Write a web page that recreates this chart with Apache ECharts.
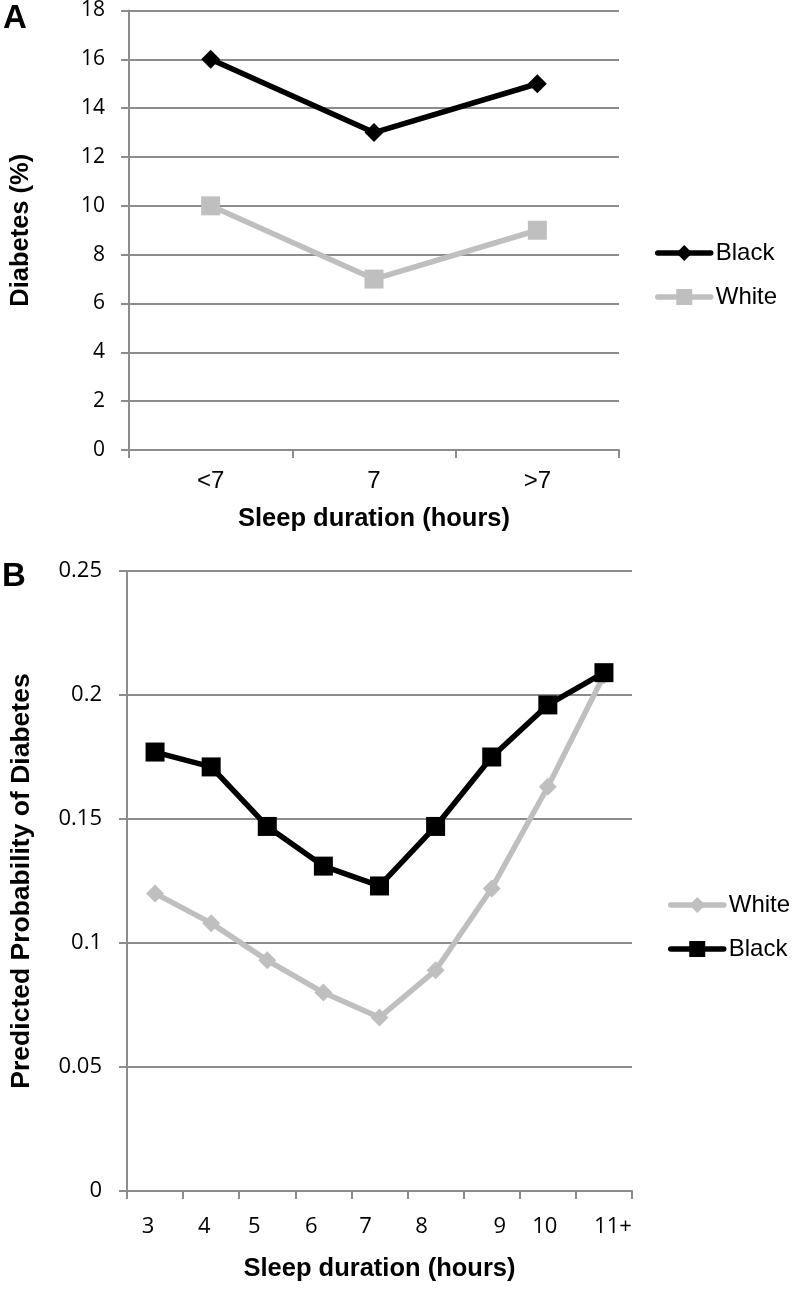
<!DOCTYPE html>
<html><head><meta charset="utf-8">
<script src="https://cdn.jsdelivr.net/npm/echarts@6/dist/echarts.min.js"></script>
<style>html,body{margin:0;padding:0;background:#fff}#c{width:792px;height:1289px}</style>
</head><body><div id="c"></div>
<script>
// ---- Panel A data ----
const catsA = ['<7', '7', '>7'];
const blackA = [16, 13, 15];
const whiteA = [10, 7, 9];
const yTicksA = ['0', '2', '4', '6', '8', '10', '12', '14', '16', '18'];
// ---- Panel B data ----
const catsB = ['3', '4', '5', '6', '7', '8', '9', '10', '11+'];
const whiteB = [0.120, 0.108, 0.093, 0.080, 0.070, 0.089, 0.122, 0.163, 0.208];
const blackB = [0.177, 0.171, 0.147, 0.131, 0.123, 0.147, 0.175, 0.196, 0.209];
const yTicksB = ['0', '0.05', '0.1', '0.15', '0.2', '0.25'];

// ---- style ----
const labelShiftB = [-7, -7, -13, -12, -14, -14, 8, -3, 9];
const GRID = '#8c8c8c';
const GRAY = '#bfbfbf';
const LW = 5.5;
const axisLineStyle = { color: GRID, width: 2 };
const titleFont = { fontFamily: 'Liberation Sans', fontWeight: 'bold', fontSize: 25.5, color: '#000' };
const legendText = { fontFamily: 'Liberation Sans', fontSize: 24, lineHeight: 24, color: '#000' };
const richB = {};
labelShiftB.forEach((s, i) => {
  richB['s' + i] = {
    fontFamily: 'Open Sans', fontSize: 22, color: '#000',
    padding: s < 0 ? [0, -2 * s, 0, 0] : [0, 0, 0, 2 * s]
  };
});

const chart = echarts.init(document.getElementById('c'), null, { renderer: 'canvas' });
chart.setOption({
  animation: false,
  backgroundColor: '#fff',
  grid: [
    { left: 121, top: 8, width: 498, height: 442 },
    { left: 125, top: 571, width: 507, height: 620 }
  ],
  xAxis: [
    {
      gridIndex: 0, type: 'category', data: catsA, boundaryGap: true,
      axisLine: { show: true, lineStyle: axisLineStyle },
      axisTick: { show: true, length: 8, interval: 0, lineStyle: axisLineStyle },
      axisLabel: { interval: 0, margin: 19, fontFamily: 'Liberation Sans Narrow, Liberation Sans', fontSize: 24, color: '#000' },
      splitLine: { show: false },
      name: 'Sleep duration (hours)', nameLocation: 'middle', nameGap: 56, nameTextStyle: titleFont
    },
    {
      gridIndex: 1, type: 'category', data: catsB, boundaryGap: true,
      axisLine: { show: true, lineStyle: axisLineStyle },
      axisTick: { show: true, length: 8, interval: 0, lineStyle: axisLineStyle },
      axisLabel: {
        interval: 0, margin: 25, fontFamily: 'Open Sans', fontSize: 22, color: '#000',
        formatter: (v, i) => '{s' + i + '|' + v + '}', rich: richB
      },
      splitLine: { show: false },
      name: 'Sleep duration (hours)', nameLocation: 'middle', nameGap: 65, nameTextStyle: titleFont
    }
  ],
  yAxis: [
    {
      gridIndex: 0, type: 'value', min: 0, max: 18, interval: 2,
      axisLine: { show: true, lineStyle: axisLineStyle },
      axisTick: { show: true, length: 8, lineStyle: axisLineStyle },
      splitLine: { show: true, lineStyle: axisLineStyle },
      axisLabel: { margin: 24, fontFamily: 'Open Sans', fontSize: 21, color: '#000',
        formatter: v => yTicksA[Math.round(v / 2)] },
      name: 'Diabetes (%)', nameLocation: 'middle', nameGap: 95, nameTextStyle: titleFont
    },
    {
      gridIndex: 1, type: 'value', min: 0, max: 0.25, interval: 0.05,
      axisLine: { show: true, lineStyle: axisLineStyle },
      axisTick: { show: true, length: 8, lineStyle: axisLineStyle },
      splitLine: { show: true, lineStyle: axisLineStyle },
      axisLabel: { margin: 25, fontFamily: 'Open Sans', fontSize: 22, color: '#000',
        formatter: v => yTicksB[Math.round(v / 0.05)] },
      name: 'Predicted Probability of Diabetes', nameLocation: 'middle', nameGap: 92,
      nameTextStyle: Object.assign({}, titleFont, { fontSize: 26.5 })
    }
  ],
  legend: [
    {
      orient: 'vertical', left: 655, top: 241, padding: 0, data: ['Black', 'White'],
      itemWidth: 53, itemHeight: 20, itemGap: 20, selectedMode: false,
      lineStyle: { width: LW, cap: 'round' },
      textStyle: legendText
    },
    {
      orient: 'vertical', left: 668, top: 893, padding: 0, data: ['White (B)', 'Black (B)'],
      itemWidth: 53, itemHeight: 20, itemGap: 20, selectedMode: false,
      lineStyle: { width: LW, cap: 'round' },
      formatter: n => n.replace(' (B)', ''),
      textStyle: legendText
    }
  ],
  graphic: [
    { type: 'text', left: 3, top: 2, style: { text: 'A', font: 'bold 33px "Liberation Sans"', fill: '#000' } },
    { type: 'text', left: 2, top: 560, style: { text: 'B', font: 'bold 33px "Liberation Sans"', fill: '#000' } }
  ],
  series: [
    { name: 'Black', type: 'line', xAxisIndex: 0, yAxisIndex: 0, data: blackA,
      symbol: 'diamond', symbolSize: 19, lineStyle: { color: '#000', width: LW }, itemStyle: { color: '#000' } },
    { name: 'White', type: 'line', xAxisIndex: 0, yAxisIndex: 0, data: whiteA,
      symbol: 'rect', symbolSize: 19, lineStyle: { color: GRAY, width: LW }, itemStyle: { color: GRAY } },
    { name: 'White (B)', type: 'line', xAxisIndex: 1, yAxisIndex: 1, data: whiteB,
      symbol: 'diamond', symbolSize: 18, lineStyle: { color: GRAY, width: LW }, itemStyle: { color: GRAY } },
    { name: 'Black (B)', type: 'line', xAxisIndex: 1, yAxisIndex: 1, data: blackB,
      symbol: 'rect', symbolSize: 19, lineStyle: { color: '#000', width: LW }, itemStyle: { color: '#000' } }
  ]
});
</script>
</body></html>
